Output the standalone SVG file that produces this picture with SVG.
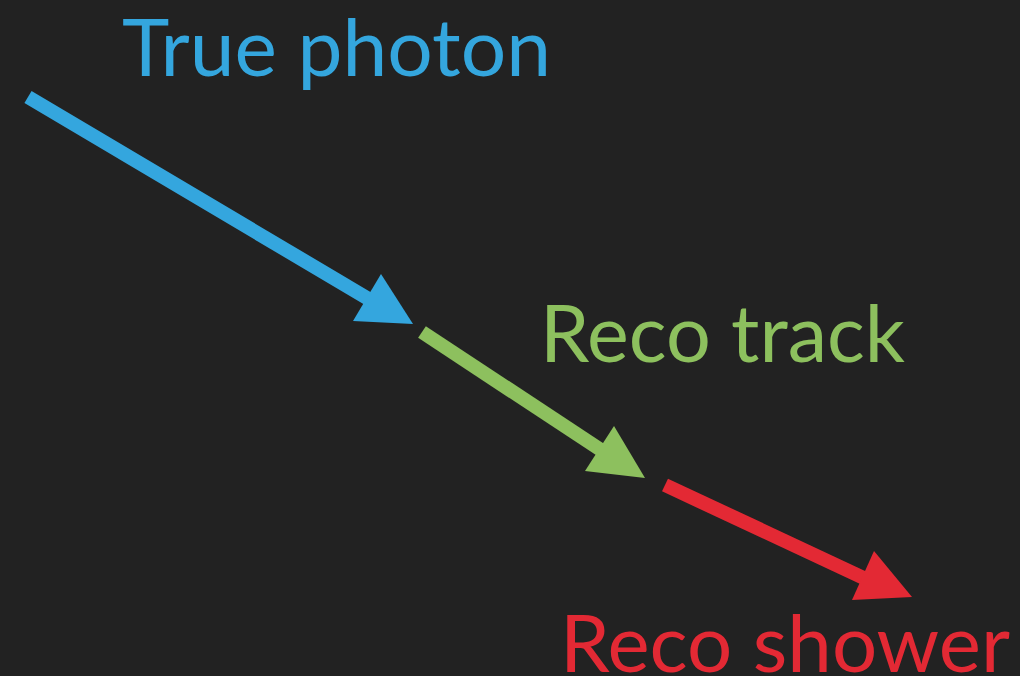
<svg xmlns="http://www.w3.org/2000/svg" width="1020" height="676" viewBox="0 0 1020 676">
  <style>
    .lbl { font-family: "Lato", "Liberation Sans", sans-serif; font-size: 80px; }
    .shaft { stroke-width: 14; fill: none; }
  </style>
  <rect width="1020" height="676" fill="#222222"/>

  <g id="connectors">
    <line class="shaft" x1="28" y1="97" x2="372" y2="301" stroke="#34A6DE"/>
    <polygon points="413,324 353,321 381,274" fill="#34A6DE"/>
    <line class="shaft" x1="422" y1="332" x2="604" y2="452" stroke="#8DC05E"/>
    <polygon points="645,478 585,471 614,426" fill="#8DC05E"/>
    <line class="shaft" x1="665" y1="485" x2="868" y2="580" stroke="#E32934"/>
    <polygon points="912,597 852,600 874,551" fill="#E32934"/>
  </g>

  <g id="true-photon">
    <text class="lbl" x="122" y="76" fill="#34A6DE" textLength="429" lengthAdjust="spacingAndGlyphs">True photon</text>
  </g>
  <g id="reco-track">
    <text class="lbl" x="540" y="362" fill="#8DC05E" textLength="365" lengthAdjust="spacingAndGlyphs">Reco track</text>
  </g>
  <g id="reco-shower">
    <text class="lbl" x="560" y="672" fill="#E32934" textLength="450" lengthAdjust="spacingAndGlyphs">Reco shower</text>
  </g>
</svg>
